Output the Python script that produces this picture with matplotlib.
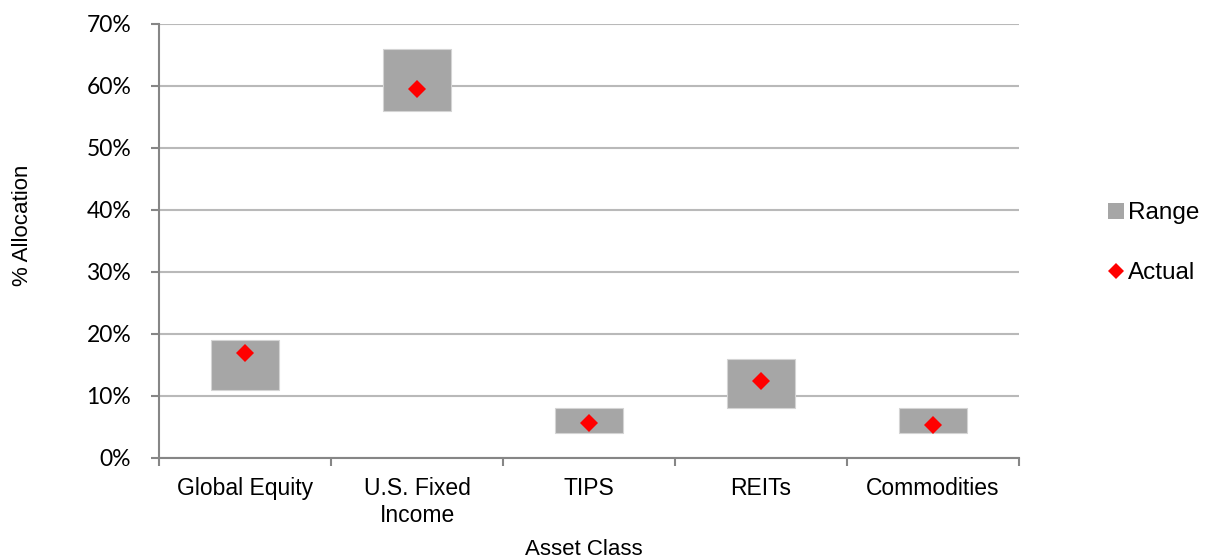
import matplotlib
matplotlib.use("Agg")
import matplotlib.pyplot as plt
from matplotlib.lines import Line2D
from matplotlib.patches import Patch
from matplotlib.ticker import FixedLocator, PercentFormatter

# allocation bands and current weights, in percent
categories = ["Global Equity", "U.S. Fixed\nIncome", "TIPS", "REITs", "Commodities"]
range_low = [11, 56, 4, 8, 4]
range_high = [19, 66, 8, 16, 8]
actual = [17, 59.5, 5.6, 12.4, 5.4]
y_ticks = [0, 10, 20, 30, 40, 50, 60, 70]

BAR_GREY = "#a6a6a6"
AXIS_GREY = "#868686"
GRID_GREY = "#b9b9b9"

fig = plt.figure(figsize=(12.06, 5.58), dpi=100)
ax = fig.add_axes([159 / 1206, 100 / 558, 860 / 1206, 434 / 558])

x = list(range(len(categories)))
heights = [h - l for h, l in zip(range_high, range_low)]
ax.bar(x, heights, bottom=range_low, width=0.4, color=BAR_GREY,
       edgecolor="#d4d4d4", linewidth=0.8, zorder=3)
ax.plot(x, actual, linestyle="none", marker="D", markersize=9,
        color="#ff0000", markeredgewidth=0, zorder=4)

ax.set_xlim(-0.5, len(categories) - 0.5)
ax.set_ylim(0, 70)
ax.set_yticks(y_ticks)
ax.yaxis.set_major_formatter(PercentFormatter(decimals=0))
ax.grid(axis="y", color=GRID_GREY, linewidth=1.5, zorder=0)

ax.set_xticks(x)
ax.set_xticklabels(categories, fontfamily="Liberation Sans", fontsize=16.5,
                   linespacing=1.25)
ax.xaxis.set_minor_locator(FixedLocator([i - 0.5 for i in range(len(categories) + 1)]))
ax.tick_params(axis="x", which="major", length=0, pad=13.5)
ax.tick_params(axis="x", which="minor", length=6, width=1.5, color=AXIS_GREY)
ax.tick_params(axis="y", length=6, width=1.5, color=AXIS_GREY, pad=14)
for lab in ax.get_yticklabels():
    lab.set_fontfamily("Lato")
    lab.set_fontsize(16.5)

for side in ("top", "right"):
    ax.spines[side].set_visible(False)
for side in ("left", "bottom"):
    ax.spines[side].set_color(AXIS_GREY)
    ax.spines[side].set_linewidth(1.5)

fig.text(584 / 1206, 3 / 558, "Asset Class", ha="center", va="baseline",
         fontfamily="Liberation Sans", fontsize=16)
fig.text(23 / 1206, 1 - 225 / 558, "% Allocation", ha="center", va="center",
         rotation=90, fontfamily="Liberation Sans", fontsize=16)

handles = [
    Patch(facecolor=BAR_GREY, edgecolor="none"),
    Line2D([], [], linestyle="none", marker="D", markersize=8,
           color="#ff0000", markeredgewidth=0),
]
fig.legend(handles, ["Range", "Actual"], loc="center left",
           bbox_to_anchor=(1098 / 1206, 1 - 243 / 558), frameon=False,
           prop={"family": "Liberation Sans", "size": 17.5},
           handlelength=0.65, handleheight=0.65, handletextpad=0.2,
           labelspacing=1.55, borderaxespad=0)

fig.savefig("out.png", dpi=100)
